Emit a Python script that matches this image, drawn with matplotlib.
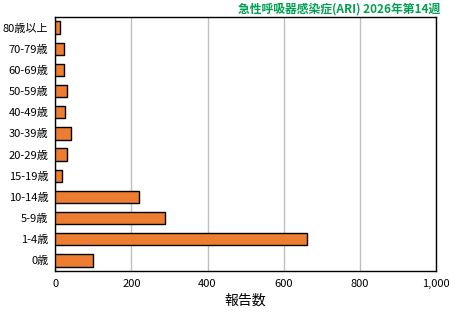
import matplotlib
matplotlib.use('Agg')
import matplotlib.pyplot as plt
from matplotlib.ticker import FuncFormatter

plt.rcParams['font.family'] = ['Noto Sans CJK JP', 'DejaVu Sans']

ages = ['0歳', '1-4歳', '5-9歳', '10-14歳', '15-19歳', '20-29歳', '30-39歳',
        '40-49歳', '50-59歳', '60-69歳', '70-79歳', '80歳以上']
counts = [100, 660, 289, 220, 18, 32, 42, 26, 30, 24, 24, 13]
xticks = [0, 200, 400, 600, 800, 1000]

fig = plt.figure(figsize=(4.6, 3.2), dpi=100)
ax = fig.add_axes([0.12, 0.153, 0.828, 0.794])

ax.barh(range(len(ages)), counts, height=0.58, color='#ED7D31',
        edgecolor='black', linewidth=1, zorder=3)
ax.set_yticks(range(len(ages)))
ax.set_yticklabels(ages, fontsize=8)
ax.set_ylim(-0.5, len(ages) - 0.5)
ax.set_xlim(0, 1000)
ax.set_xticks(xticks)
ax.xaxis.set_major_formatter(FuncFormatter(lambda v, p: f'{int(v):,}'))
ax.tick_params(axis='x', labelsize=8, length=0, pad=6)
ax.tick_params(axis='y', length=0, pad=5)
ax.grid(axis='x', color='#c0c0c0', linewidth=1, zorder=0)
for s in ax.spines.values():
    s.set_linewidth(1)
ax.set_xlabel('報告数', fontsize=10, labelpad=3)

fig.text(0.957, 0.972, '急性呼吸器感染症(ARI) 2026年第14週', color='#00a050',
         fontsize=8.5, fontweight='bold', ha='right', va='center')

fig.savefig('out.png', dpi=100)
